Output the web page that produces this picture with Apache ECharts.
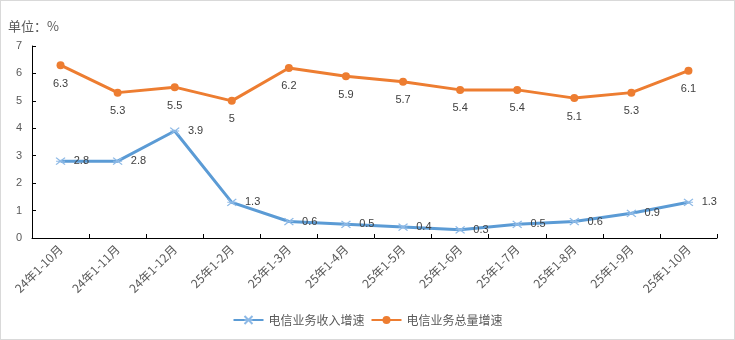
<!DOCTYPE html>
<html>
<head>
<meta charset="utf-8">
<script src="https://cdn.jsdelivr.net/npm/echarts@6/dist/echarts.min.js"></script>
<style>
  html, body { margin: 0; padding: 0; background: #fff; }
  #chart { width: 733px; height: 338px; border: 1px solid #d9d9d9; }
</style>
</head>
<body>
<div id="chart"></div>
<script>
// Monthly cumulative periods
const categories = ['24年1-10月', '24年1-11月', '24年1-12月', '25年1-2月', '25年1-3月', '25年1-4月',
  '25年1-5月', '25年1-6月', '25年1-7月', '25年1-8月', '25年1-9月', '25年1-10月'];
// Telecom business revenue growth (%)
const revenueGrowth = [2.8, 2.8, 3.9, 1.3, 0.6, 0.5, 0.4, 0.3, 0.5, 0.6, 0.9, 1.3];
// Telecom business volume growth (%)
const volumeGrowth = [6.3, 5.3, 5.5, 5, 6.2, 5.9, 5.7, 5.4, 5.4, 5.1, 5.3, 6.1];
const seriesNames = ['电信业务收入增速', '电信业务总量增速'];
const yTicks = { min: 0, max: 7, interval: 1 };

const font = '"Noto Sans CJK SC", "Microsoft YaHei", sans-serif';
const numFont = 'Liberation Sans, sans-serif';
const textColor = '#595959';
const labelColor = '#404040';
const blue = '#5B9BD5';
const orange = '#ED7D31';
const crossMark = 'path://M0,0L10,8M10,0L0,8M0,4L10,4';

const chart = echarts.init(document.getElementById('chart'));
chart.setOption({
  animation: false,
  textStyle: { fontFamily: font },
  title: {
    text: '单位：%',
    left: 7, top: 19,
    padding: 0,
    textStyle: { fontSize: 13, fontWeight: 'normal', color: textColor, fontFamily: font }
  },
  grid: { left: 31, right: 17, top: 45, bottom: 101 },
  legend: {
    bottom: 8,
    left: 'center',
    itemWidth: 30,
    itemHeight: 10,
    itemGap: 6,
    textStyle: { fontSize: 12, color: textColor, fontFamily: font },
    data: seriesNames
  },
  xAxis: {
    type: 'category',
    data: categories,
    boundaryGap: true,
    axisLine: { lineStyle: { color: '#000', width: 1 } },
    axisTick: { show: true, inside: true, length: 4, alignWithLabel: false, lineStyle: { color: '#000' } },
    axisLabel: { rotate: 45, interval: 0, fontSize: 12, color: textColor, margin: 9, fontFamily: font }
  },
  yAxis: {
    type: 'value',
    min: yTicks.min, max: yTicks.max, interval: yTicks.interval,
    splitLine: { show: false },
    axisLine: { show: true, lineStyle: { color: '#000', width: 1 } },
    axisTick: { show: true, inside: true, length: 4, lineStyle: { color: '#000' } },
    axisLabel: { fontSize: 11, color: textColor, margin: 10, fontFamily: numFont }
  },
  series: [
    {
      name: seriesNames[0],
      type: 'line',
      data: revenueGrowth,
      color: blue,
      symbol: crossMark,
      symbolSize: [9, 7],
      showAllSymbol: true,
      lineStyle: { width: 3, color: blue },
      itemStyle: { color: 'transparent', borderColor: '#8DB9E6', borderWidth: 1.2 },
      label: { show: true, position: 'right', distance: 8, fontSize: 11, color: labelColor, fontFamily: numFont },
      z: 3
    },
    {
      name: seriesNames[1],
      type: 'line',
      data: volumeGrowth,
      color: orange,
      symbol: 'circle',
      symbolSize: 8,
      showAllSymbol: true,
      lineStyle: { width: 3, color: orange },
      itemStyle: { color: orange },
      label: { show: true, position: 'bottom', distance: 9, fontSize: 11, color: labelColor, fontFamily: numFont },
      z: 2
    }
  ]
});
</script>
</body>
</html>
